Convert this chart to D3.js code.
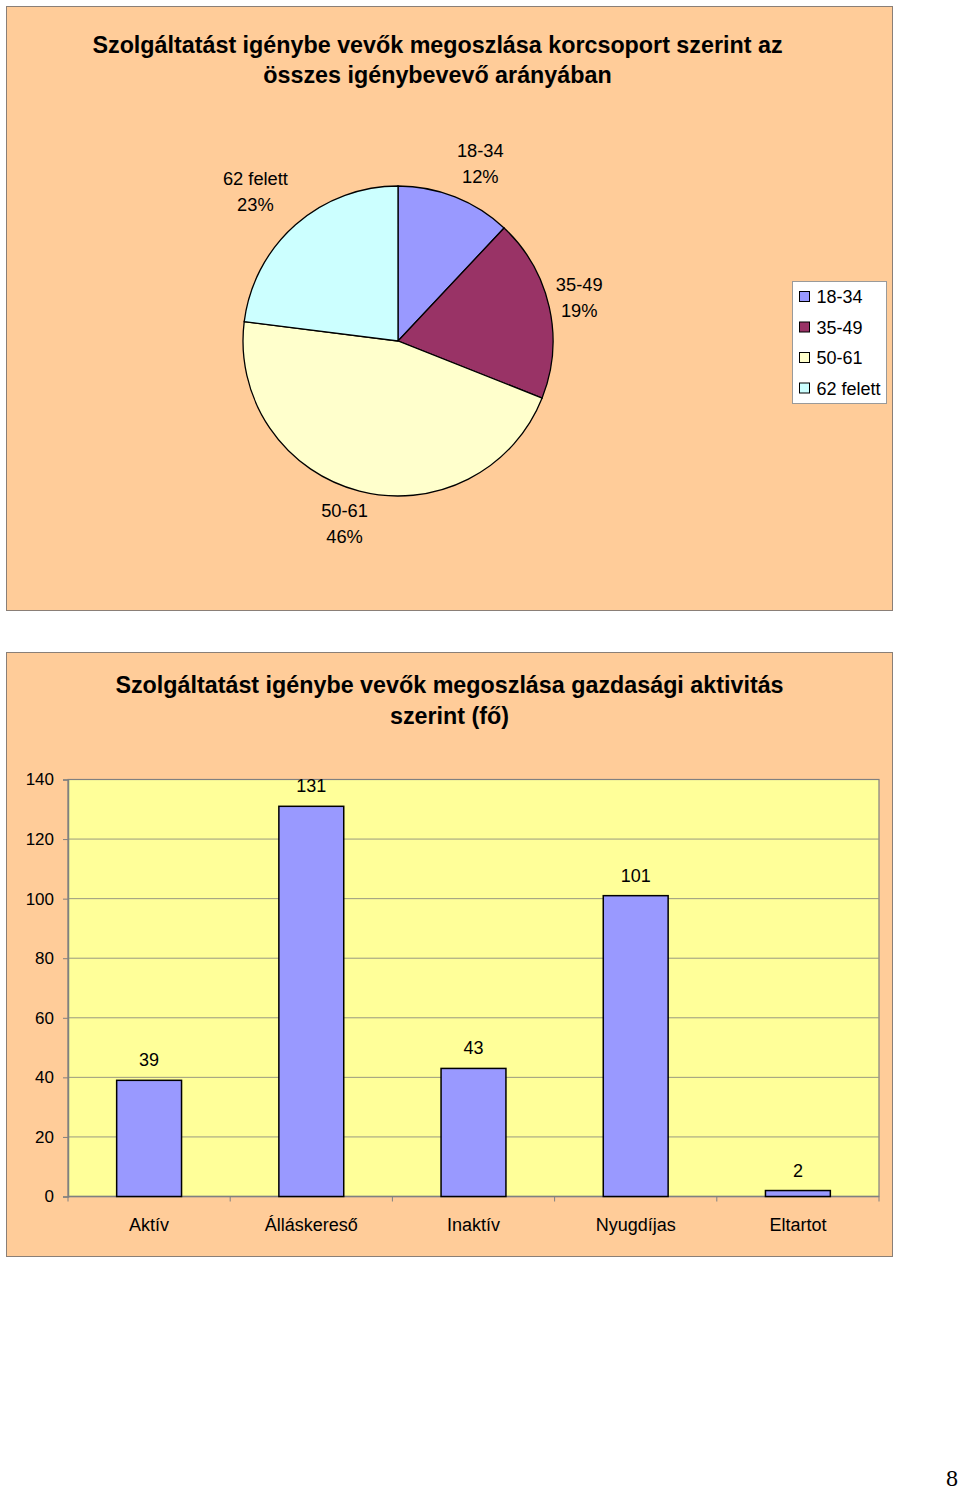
<!DOCTYPE html>
<html><head><meta charset="utf-8">
<script src="https://cdn.jsdelivr.net/npm/d3@7/dist/d3.min.js"></script>
<style>
html,body{margin:0;padding:0;background:#fff;}
svg{display:block;font-family:"Liberation Sans",Arial,sans-serif;}
</style></head>
<body>
<svg id="c" width="960" height="1492"></svg>
<script>
// ---- data ----
const pieTitle = ["Szolgáltatást igénybe vevők megoszlása korcsoport szerint az", "összes igénybevevő arányában"];
const ageGroups = ["18-34", "35-49", "50-61", "62 felett"];
const agePercents = [12, 19, 46, 23];
const ageColors = ["#9999FF", "#993366", "#FFFFCC", "#CCFFFF"];

const barTitle = ["Szolgáltatást igénybe vevők megoszlása gazdasági aktivitás", "szerint (fő)"];
const activities = ["Aktív", "Álláskereső", "Inaktív", "Nyugdíjas", "Eltartot"];
const activityCounts = [39, 131, 43, 101, 2];
const yTicks = [0, 20, 40, 60, 80, 100, 120, 140];
const pageNumber = "8";

const svg = d3.select("#c");

// ---- panel 1: pie ----
svg.append("rect").attr("x", 6.5).attr("y", 6.5).attr("width", 886).attr("height", 604)
  .attr("fill", "#FFCC99").attr("stroke", "#8a7f77").attr("stroke-width", 1);

svg.append("g").selectAll("text").data(pieTitle).join("text")
  .attr("x", 437.5).attr("y", (d, i) => 53 + i * 30)
  .attr("text-anchor", "middle").attr("font-weight", "bold").attr("font-size", 23.3)
  .attr("fill", "#000").text(d => d);

const cx = 398, cy = 341, r = 155;
const pie = d3.pie().sort(null).value(d => d)(agePercents);
const arc = d3.arc().innerRadius(0).outerRadius(r);
const gp = svg.append("g").attr("transform", `translate(${cx},${cy})`);
gp.selectAll("path").data(pie).join("path")
  .attr("d", arc).attr("fill", (d, i) => ageColors[i])
  .attr("stroke", "#000").attr("stroke-width", 1.3);

// labels placed outside along the mid-angle (with small layout nudges)
const labelArc = d3.arc().innerRadius(r + 44).outerRadius(r + 44);
const labelNudge = [[9, 7], [-13, -1], [-4, -11], [-11, -1]];
const lg = gp.selectAll("g.lbl").data(pie).join("g").attr("class", "lbl")
  .attr("transform", (d, i) => {
    const c = labelArc.centroid(d);
    return `translate(${c[0] + labelNudge[i][0]},${c[1] + labelNudge[i][1]})`;
  });
lg.append("text").attr("text-anchor", "middle").attr("y", -6).attr("font-size", 18.3).attr("fill", "#000")
  .text((d, i) => ageGroups[i]);
lg.append("text").attr("text-anchor", "middle").attr("y", 20).attr("font-size", 18.3).attr("fill", "#000")
  .text((d, i) => agePercents[i] + "%");

// legend
const leg = svg.append("g").attr("transform", "translate(792.5,281.5)");
leg.append("rect").attr("width", 94).attr("height", 122).attr("fill", "#fff").attr("stroke", "#9a9a9a");
const li = leg.selectAll("g").data(ageGroups).join("g")
  .attr("transform", (d, i) => `translate(7,${15 + i * 30.5})`);
li.append("rect").attr("x", 0).attr("y", -5).attr("width", 10).attr("height", 10)
  .attr("fill", (d, i) => ageColors[i]).attr("stroke", "#000").attr("stroke-width", 1);
li.append("text").attr("x", 17).attr("y", 6.5).attr("font-size", 18).attr("fill", "#000").text(d => d);

// ---- panel 2: bars ----
svg.append("rect").attr("x", 6.5).attr("y", 652.5).attr("width", 886).attr("height", 604)
  .attr("fill", "#FFCC99").attr("stroke", "#8a7f77").attr("stroke-width", 1);

svg.append("g").selectAll("text").data(barTitle).join("text")
  .attr("x", 449.5).attr("y", (d, i) => 693 + i * 31)
  .attr("text-anchor", "middle").attr("font-weight", "bold").attr("font-size", 23.3)
  .attr("fill", "#000").text(d => d);

const px0 = 68, px1 = 879, py0 = 779.5, py1 = 1196.5;
const x = d3.scaleBand().domain(activities).range([px0, px1]).paddingInner(0).paddingOuter(0);
const y = d3.scaleLinear().domain([0, 140]).range([py1, py0]);

svg.append("rect").attr("x", px0).attr("y", py0).attr("width", px1 - px0).attr("height", py1 - py0)
  .attr("fill", "#FFFF99").attr("stroke", "#808080").attr("stroke-width", 1.2);

// gridlines
svg.append("g").selectAll("line").data(yTicks.filter(t => t > 0 && t < 140)).join("line")
  .attr("x1", px0).attr("x2", px1).attr("y1", d => y(d)).attr("y2", d => y(d))
  .attr("stroke", "#9a9a80").attr("stroke-width", 1);

// y axis
const yAxis = svg.append("g").attr("transform", `translate(${px0},0)`)
  .call(d3.axisLeft(y).tickValues(yTicks).tickSize(5).tickPadding(9).tickFormat(d3.format("d")));
yAxis.select(".domain").attr("stroke", "#808080").attr("stroke-width", 1.5);
yAxis.selectAll(".tick line").attr("stroke", "#808080");
yAxis.selectAll(".tick text").attr("font-size", 17).attr("fill", "#000")
  .attr("font-family", "Liberation Sans, Arial, sans-serif");

// x axis (ticks at category boundaries)
const xg = svg.append("g").attr("transform", `translate(0,${py1})`);
xg.append("line").attr("x1", px0).attr("x2", px1).attr("stroke", "#808080").attr("stroke-width", 1.5);
const bounds = activities.map(a => x(a)).concat([px1]);
xg.selectAll("line.t").data(bounds).join("line").attr("class", "t")
  .attr("x1", d => d).attr("x2", d => d).attr("y1", 0).attr("y2", 5).attr("stroke", "#808080");
xg.selectAll("text").data(activities).join("text")
  .attr("x", d => x(d) + x.bandwidth() / 2).attr("y", 34)
  .attr("text-anchor", "middle").attr("font-size", 18).attr("fill", "#000").text(d => d);

// bars
const bw = x.bandwidth() * 0.4;
svg.append("g").selectAll("rect").data(activityCounts).join("rect")
  .attr("x", (d, i) => x(activities[i]) + (x.bandwidth() - bw) / 2)
  .attr("y", d => y(d)).attr("width", bw).attr("height", d => y(0) - y(d))
  .attr("fill", "#9999FF").attr("stroke", "#000").attr("stroke-width", 1.5);

svg.append("g").selectAll("text").data(activityCounts).join("text")
  .attr("x", (d, i) => x(activities[i]) + x.bandwidth() / 2)
  .attr("y", d => y(d) - 14).attr("text-anchor", "middle")
  .attr("font-size", 18).attr("fill", "#000").text(d => d);

// page number
svg.append("text").attr("x", 958).attr("y", 1486).attr("text-anchor", "end")
  .attr("font-family", "Liberation Serif, Times New Roman, serif").attr("font-size", 24)
  .attr("fill", "#000").text(pageNumber);
</script>
</body></html>
